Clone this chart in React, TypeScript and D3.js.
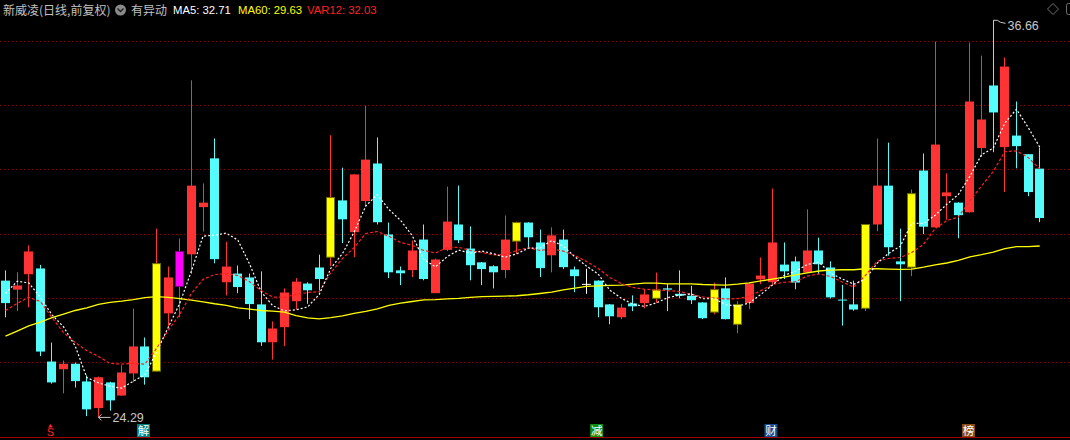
import React from "react";
import * as d3 from "d3";

// ---------- data (daily candles, forward-adjusted) ----------
const opens = [
  28.55, 28.27, 28.75, 28.93, 26.03, 25.79, 25.96, 25.41, 24.58, 25.38,
  24.97, 25.66, 26.5, 25.73, 27.53, 28.37, 29.37, 30.84, 32.36, 28.5,
  28.77, 28.65, 27.81, 26.63, 27.1, 27.91, 28.46, 28.96, 29.28, 31.05,
  30.06, 31.03, 32.2, 29.99, 28.87, 28.88, 29.83, 28.16, 29.51, 30.3,
  29.55, 29.12, 29.0, 28.88, 29.78, 30.36, 29.74, 29.34, 29.83, 28.9,
  28.45, 28.55, 27.81, 27.41, 27.84, 27.85, 28.0, 28.31, 28.14, 28.08,
  27.87, 27.57, 28.31, 27.19, 27.85, 28.59, 28.5, 29.05, 29.15, 28.8,
  29.49, 28.96, 27.96, 27.81, 27.69, 30.3, 31.51, 29.15, 28.97, 31.98,
  30.21, 31.18, 30.98, 30.68, 32.68, 34.63, 32.71, 33.07, 32.49, 32.04,
];
const highs = [
  28.87, 28.81, 29.65, 29.04, 26.62, 26.06, 26.0, 25.6, 25.56, 25.4,
  25.91, 27.68, 26.78, 30.17, 28.99, 29.86, 34.79, 31.58, 32.98, 29.76,
  29.02, 28.77, 28.84, 27.28, 28.31, 28.63, 28.5, 29.36, 33.08, 32.07,
  31.87, 34.0, 33.01, 30.36, 28.99, 29.8, 30.3, 29.24, 31.48, 31.51,
  30.24, 29.13, 29.03, 30.58, 30.39, 30.37, 30.14, 30.21, 30.14, 28.99,
  28.92, 28.56, 27.82, 27.83, 28.09, 28.27, 28.8, 28.45, 28.87, 28.39,
  27.88, 28.49, 28.65, 27.91, 28.49, 29.27, 31.42, 29.74, 29.3, 30.77,
  29.89, 29.15, 28.42, 28.55, 30.31, 32.98, 32.85, 30.17, 31.39, 32.51,
  36.0, 31.89, 30.99, 35.97, 35.56, 36.66, 35.5, 34.13, 32.49, 32.7,
];
const lows = [
  27.41, 27.6, 27.72, 26.2, 25.34, 25.04, 25.22, 24.33, 24.29, 24.5,
  24.96, 25.39, 25.31, 25.72, 27.1, 27.41, 28.76, 30.08, 29.09, 28.09,
  28.16, 27.35, 26.52, 26.09, 26.51, 27.65, 27.83, 28.19, 29.0, 29.72,
  29.28, 30.86, 30.3, 28.63, 28.41, 28.66, 28.56, 28.16, 29.47, 29.72,
  28.56, 28.41, 28.31, 28.63, 29.37, 29.59, 28.66, 28.81, 28.91, 28.19,
  28.14, 27.41, 27.19, 27.35, 27.6, 27.69, 27.85, 27.6, 28.0, 27.82,
  27.35, 27.5, 27.34, 26.91, 27.66, 28.44, 28.43, 28.6, 28.28, 28.79,
  28.75, 27.99, 27.15, 27.61, 27.6, 30.09, 29.33, 27.91, 28.69, 30.0,
  30.2, 30.45, 29.87, 30.67, 32.4, 32.55, 31.31, 32.05, 31.18, 30.37,
];
const closes = [
  27.85, 28.4, 29.46, 26.34, 25.38, 25.96, 25.42, 24.54, 25.54, 24.82,
  25.69, 26.5, 25.54, 29.08, 28.65, 29.46, 31.51, 30.98, 29.22, 28.99,
  28.35, 27.82, 26.63, 27.06, 28.18, 28.52, 28.25, 28.6, 31.14, 30.46,
  31.86, 32.32, 30.37, 28.81, 28.78, 29.49, 28.6, 29.21, 30.39, 29.81,
  29.03, 28.91, 28.81, 29.83, 30.36, 29.9, 28.94, 29.96, 28.97, 28.69,
  28.45, 27.72, 27.44, 27.71, 27.75, 28.12, 28.26, 28.27, 28.08, 27.94,
  27.38, 28.27, 27.35, 27.81, 28.46, 28.71, 29.74, 28.84, 28.49, 29.49,
  29.06, 28.03, 27.95, 27.65, 30.3, 31.51, 29.59, 29.06, 31.26, 30.23,
  32.79, 31.3, 30.59, 34.13, 33.57, 33.79, 35.22, 32.74, 31.31, 30.5,
];
// MA5 of the four sessions before the first visible close
const ma5Head = [28.15, 28.53, 28.48, 28.03];
const ma60 = [
  26.82, 26.98, 27.14, 27.26, 27.4, 27.51, 27.62, 27.7, 27.81, 27.87,
  27.91, 27.96, 28.02, 28.05, 28.03, 27.99, 27.94, 27.89, 27.83, 27.78,
  27.7, 27.66, 27.62, 27.6, 27.57, 27.46, 27.39, 27.36, 27.4, 27.45,
  27.53, 27.59, 27.67, 27.78, 27.85, 27.9, 27.95, 27.96, 27.98, 28.0,
  28.03, 28.05, 28.06, 28.07, 28.08, 28.11, 28.15, 28.19, 28.26, 28.32,
  28.37, 28.39, 28.4, 28.41, 28.44, 28.47, 28.47, 28.45, 28.45, 28.45,
  28.43, 28.42, 28.41, 28.44, 28.48, 28.54, 28.6, 28.66, 28.73, 28.79,
  28.85, 28.88, 28.89, 28.89, 28.92, 28.92, 28.91, 28.9, 28.91, 28.97,
  29.04, 29.1, 29.18, 29.29, 29.36, 29.44, 29.55, 29.61, 29.61, 29.63,
];
const var12 = [
  27.62, 27.84, 28.03, 27.9, 27.4, 26.93, 26.62, 26.37, 26.19, 25.97,
  25.95, 25.97, 25.95, 26.44, 27.0, 27.5, 28.15, 28.59, 28.74, 28.77,
  28.71, 28.52, 28.24, 28.04, 28.03, 28.12, 28.18, 28.21, 28.8, 29.24,
  29.58, 30.02, 30.08, 29.93, 29.74, 29.65, 29.49, 29.41, 29.58, 29.59,
  29.49, 29.43, 29.35, 29.36, 29.49, 29.58, 29.49, 29.54, 29.47, 29.33,
  29.15, 28.93, 28.65, 28.46, 28.34, 28.28, 28.26, 28.24, 28.21, 28.13,
  28.04, 28.01, 27.98, 27.99, 28.06, 28.24, 28.43, 28.5, 28.52, 28.69,
  28.76, 28.68, 28.51, 28.35, 28.71, 29.15, 29.24, 29.27, 29.43, 29.68,
  30.17, 30.42, 30.53, 31.05, 31.5, 31.95, 32.57, 32.59, 32.39, 32.03,
];
const yellowSignalDays = [13, 28, 44, 56, 61, 63, 74, 78];
const magentaSignalDays = [15];
const eventIdx = [4, 12, 51, 66, 83];
const eventLabels = ["S", "解", "减", "财", "榜"];
const yTicks = [26, 28, 30, 32, 34, 36];
const title = "新威凌(日线,前复权)";
const alertText = "有异动";

// ---------- styles ----------
const W = 1070;
const H = 440;
const RED = "#ff3333";
const CYAN = "#54fcfc";
const YEL = "#ffff00";
const MAG = "#ff00ff";
const GRID = "#8c0000";
const boxColors: Record<string, string> = {
  "解": "#008080",
  "减": "#118a11",
  "财": "#174a8c",
  "榜": "#8a4a14",
};
const LATIN = "'Liberation Sans', Arial, 'Noto Sans CJK SC', sans-serif";
const CJK = "'Noto Sans CJK SC', 'Liberation Sans', sans-serif";

export default function App() {
  const n = closes.length;
  const x = d3.scaleLinear().domain([0, n - 1]).range([5.5, 1039.7]);
  const y = d3.scaleLinear().domain([26, 36]).range([362.5, 41.5]);

  const ma5 = closes.map((_, i) =>
    i < 4 ? ma5Head[i] : (d3.mean(closes.slice(i - 4, i + 1)) as number)
  );
  const line = d3
    .line<number>()
    .x((_, i) => x(i))
    .y((d) => y(d));

  const hiIdx = d3.maxIndex(highs);
  const loIdx = d3.minIndex(lows);
  const wickX = (i: number) => Math.round(x(i) - 4.5) + 4.5;

  return (
    <>
      <style>{`body{margin:0;background:#000;}`}</style>
      <svg width={W} height={H} style={{ display: "block", background: "#000" }}>
        <rect x={0} y={0} width={W} height={H} fill="#000" />
        {/* grid */}
        {yTicks.map((v) => (
          <line
            key={v}
            x1={0}
            x2={W}
            y1={Math.floor(y(v)) + 0.5}
            y2={Math.floor(y(v)) + 0.5}
            stroke={GRID}
            strokeDasharray="1,3"
            shapeRendering="crispEdges"
          />
        ))}
        <line x1={0} x2={W} y1={437.5} y2={437.5} stroke="#a00000" strokeWidth={1} shapeRendering="crispEdges" />

        {/* candles */}
        {closes.map((c, i) => {
          const o = opens[i];
          const left = Math.round(x(i) - 4.5);
          const wx = left + 4.5;
          const top = y(Math.max(o, c));
          const bot = y(Math.min(o, c));
          const bh = Math.max(1, bot - top);
          const base = c > o ? RED : c < o ? CYAN : "#ffffff";
          let fill = base;
          let stroke = "none";
          if (yellowSignalDays.includes(i)) {
            fill = YEL;
            stroke = "#707000";
          } else if (magentaSignalDays.includes(i)) {
            fill = MAG;
            stroke = "#7a007a";
          }
          return (
            <g key={i}>
              <line x1={wx} x2={wx} y1={y(highs[i])} y2={y(lows[i])} stroke={base} strokeWidth={1} />
              {stroke === "none" ? (
                <rect x={left} y={top} width={9} height={bh} fill={fill} />
              ) : (
                <rect x={left + 0.5} y={top} width={8} height={bh} fill={fill} stroke={stroke} strokeWidth={1} />
              )}
            </g>
          );
        })}

        {/* moving averages */}
        <path d={line(ma60) || ""} fill="none" stroke={YEL} strokeWidth={1.3} />
        <path d={line(var12) || ""} fill="none" stroke="#ff2020" strokeWidth={1.2} strokeDasharray="3,2" />
        <path d={line(ma5) || ""} fill="none" stroke="#ffffff" strokeWidth={1.2} strokeDasharray="2,2" />

        {/* high / low labels */}
        <g stroke="#c8c8c8" fill="none" strokeWidth={1}>
          <path
            d={`M${wickX(hiIdx)},${y(highs[hiIdx]) + 5} V${y(highs[hiIdx])} H${wickX(hiIdx) + 4} L${wickX(hiIdx) + 7},${y(highs[hiIdx]) + 2} L${wickX(hiIdx) + 12},${y(highs[hiIdx]) + 3}`}
          />
          <path
            d={`M${wickX(loIdx)},${y(lows[loIdx])} H${wickX(loIdx) + 12} M${wickX(loIdx)},${y(lows[loIdx])} L${wickX(loIdx) + 3},${y(lows[loIdx]) - 3} M${wickX(loIdx)},${y(lows[loIdx])} L${wickX(loIdx) + 3},${y(lows[loIdx]) + 3}`}
          />
        </g>
        <text x={wickX(hiIdx) + 14} y={y(highs[hiIdx]) + 10} fill="#c8c8c8" fontSize={12.5} fontFamily={LATIN}>
          {highs[hiIdx].toFixed(2)}
        </text>
        <text x={wickX(loIdx) + 14} y={y(lows[loIdx]) + 4.5} fill="#c8c8c8" fontSize={12.5} fontFamily={LATIN}>
          {lows[loIdx].toFixed(2)}
        </text>

        {/* event markers */}
        {eventIdx.map((idx, k) => {
          const label = eventLabels[k];
          const cx = x(idx) - 1.5;
          if (label === "S") {
            return (
              <g key={k}>
                <path d={`M${cx - 2.5},427.5 L${cx},424 L${cx + 2.5},427.5 Z`} fill="#ff2020" />
                <text x={cx} y={436} fill="#ff2020" fontSize={11} fontFamily={LATIN} textAnchor="middle">
                  S
                </text>
              </g>
            );
          }
          return (
            <g key={k}>
              <rect x={cx - 6.5} y={424} width={13} height={13} fill={boxColors[label]} />
              <text x={cx} y={435} fill="#ffffff" fontSize={11.5} fontFamily={CJK} textAnchor="middle">
                {label}
              </text>
            </g>
          );
        })}

        {/* header */}
        <text x={3} y={14.5} fill="#c0c0c0" fontSize={12} fontFamily={CJK}>
          {title}
        </text>
        <circle cx={120.5} cy={10} r={5.5} fill="#8a8a8a" />
        <path d="M117.5,8.5 L120.5,11.5 L123.5,8.5" fill="none" stroke="#202020" strokeWidth={1.4} />
        <text x={131} y={14.5} fill="#c0c0c0" fontSize={12} fontFamily={CJK}>
          {alertText}
        </text>
        <text x={173} y={14} fill="#ffffff" fontSize={11.3} fontFamily={LATIN}>
          {`MA5: ${ma5[n - 1].toFixed(2)}`}
        </text>
        <text x={238} y={14} fill={YEL} fontSize={11.3} fontFamily={LATIN}>
          {`MA60: ${ma60[n - 1].toFixed(2)}`}
        </text>
        <text x={307} y={14} fill="#ff2020" fontSize={11.3} fontFamily={LATIN}>
          {`VAR12: ${var12[n - 1].toFixed(2)}`}
        </text>

        {/* top-right icons */}
        <path d="M1053,3.5 L1058.5,9 L1053,14.5 L1047.5,9 Z" fill="none" stroke="#707070" strokeWidth={1} />
        <rect x={1066.5} y={3.5} width={8} height={11} rx={2} fill="none" stroke="#707070" strokeWidth={1} />
      </svg>
    </>
  );
}
